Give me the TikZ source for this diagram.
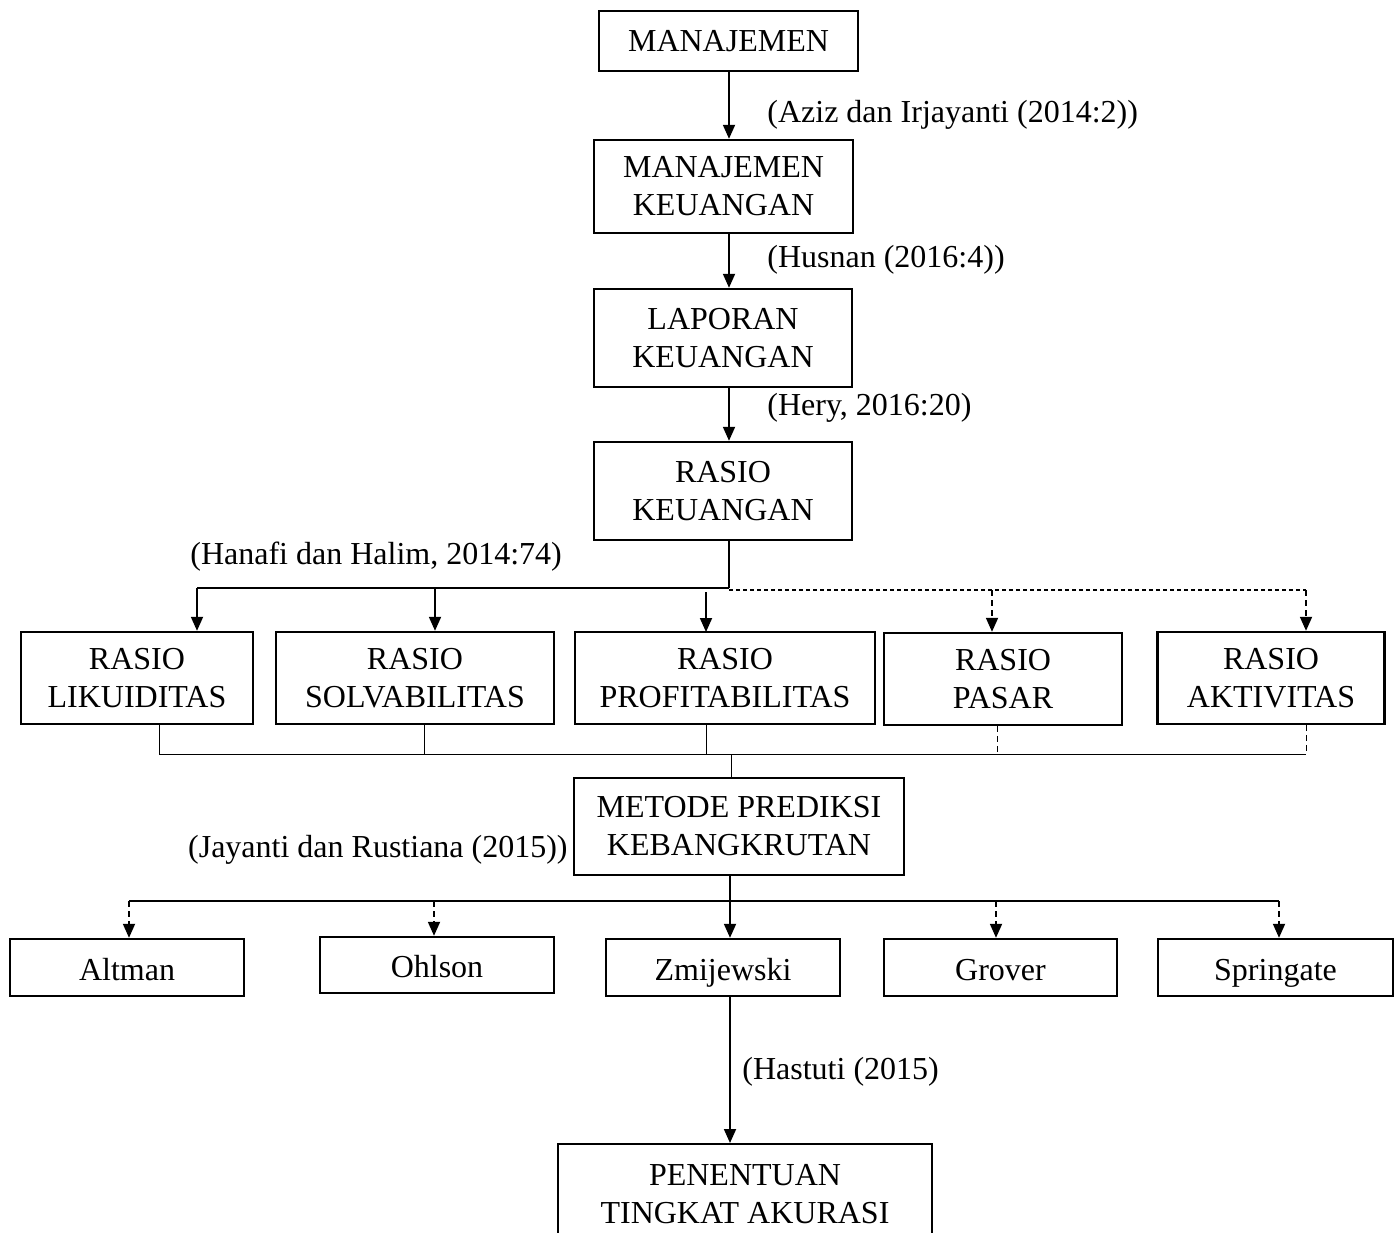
\documentclass[tikz,border=0pt]{standalone}
\usepackage{fontspec}
\setmainfont{Liberation Serif}
\usetikzlibrary{arrows.meta}

\tikzset{
  kotak/.style={draw, line width=1.2pt, align=center, inner sep=0pt,
    font=\fontsize{16}{19}\selectfont},
  model/.style={kotak, text height=14pt, text depth=1.5pt},
  ket/.style={inner sep=0pt, font=\fontsize{16}{19}\selectfont},
  panah/.style={-{Triangle[length=7pt,width=6pt]}, line width=0.9pt},
  putus/.style={dash pattern=on 3pt off 2pt},
  titik/.style={dash pattern=on 2pt off 1.5pt, line width=0.6pt}
}

\begin{document}
\begin{tikzpicture}[x=0.5pt, y=-0.5pt]

  \useasboundingbox (0,0) rectangle (1400,1232);

  % -------------------------
  % Jalur utama
  % -------------------------
  \coordinate (spine) at (729,0);

  \node[kotak, minimum width=129.5pt, minimum height=30pt] (mgmt) at (728.5,41) {MANAJEMEN};
  \node[kotak, minimum width=129.5pt, minimum height=46.5pt] (mk) at (723.5,186.5) {MANAJEMEN\\KEUANGAN};
  \node[kotak, minimum width=129pt, minimum height=49pt] (lk) at (723,338) {LAPORAN\\KEUANGAN};
  \node[kotak, minimum width=129pt, minimum height=49pt] (rk) at (723,491) {RASIO\\KEUANGAN};

  \draw[panah] (spine |- mgmt.south) -- (spine |- mk.north);
  \draw[panah] (spine |- mk.south) -- (spine |- lk.north);
  \draw[panah] (spine |- lk.south) -- (spine |- rk.north);

  \node[ket, anchor=west] (aziz) at (767,115) {(Aziz dan Irjayanti (2014:2))};
  \node[ket, anchor=west] (husnan) at (767,260) {(Husnan (2016:4))};
  \node[ket, anchor=west] (hery) at (767,408) {(Hery, 2016:20)};
  \node[ket, anchor=west] (hanafi) at (190,557) {(Hanafi dan Halim, 2014:74)};

  % -------------------------
  % Jenis rasio
  % -------------------------
  \node[kotak, minimum width=116pt, minimum height=46pt] (lik) at (137,678) {RASIO\\LIKUIDITAS};
  \node[kotak, minimum width=139pt, minimum height=46pt] (sol) at (415,678) {RASIO\\SOLVABILITAS};
  \node[kotak, minimum width=150pt, minimum height=46pt] (pro) at (725,678) {RASIO\\PROFITABILITAS};
  \node[kotak, minimum width=119pt, minimum height=46pt] (pas) at (1003,679) {RASIO\\PASAR};
  \node[kotak, minimum width=113.5pt, minimum height=46pt] (akt) at (1271,678) {RASIO\\AKTIVITAS};

  \coordinate (a1) at (197,588);
  \coordinate (a2) at (435,588);
  \coordinate (a3) at (729,588);
  \coordinate (a4) at (992,590);
  \coordinate (a5) at (1306,590);

  \draw[line width=0.8pt] (spine |- rk.south) -- (a3);
  \draw[line width=0.8pt] (a3) -- (a1);
  \draw[titik] (a3 |- a4) -- (a5);

  \draw[panah] (a1) -- (a1 |- lik.north);
  \draw[panah] (a2) -- (a2 |- sol.north);
  \draw[panah] (706,592) -- (706,632);
  \draw[panah, putus] (a4) -- (a4 |- pas.north);
  \draw[panah, putus] (a5) -- (a5 |- akt.north);

  % -------------------------
  % Penggabungan
  % -------------------------
  \coordinate (b1) at (159,754);
  \coordinate (b2) at (424,754);
  \coordinate (b3) at (706,754);
  \coordinate (b4) at (997,754);
  \coordinate (b5) at (1306,754);

  \draw[line width=0.5pt] (b1 |- lik.south) -- (b1);
  \draw[line width=0.5pt] (b2 |- sol.south) -- (b2);
  \draw[line width=0.5pt] (b3 |- pro.south) -- (b3);
  \draw[line width=0.5pt, putus] (b4 |- pas.south) -- (b4);
  \draw[line width=0.5pt, putus] (b5 |- akt.south) -- (b5);
  \draw[line width=0.5pt] (b1) -- (b5);

  \node[kotak, minimum width=165pt, minimum height=48.5pt] (metode) at (739,826.5) {METODE PREDIKSI\\KEBANGKRUTAN};
  \draw[line width=0.5pt] (731,754) -- (731,778);

  \node[ket, anchor=east] (jayanti) at (568,850) {(Jayanti dan Rustiana (2015))};

  % -------------------------
  % Model prediksi
  % -------------------------
  \node[model, minimum width=117pt, minimum height=28.5pt] (alt) at (127,967.5) {Altman};
  \node[model, minimum width=117pt, minimum height=28pt] (ohl) at (437,965) {Ohlson};
  \node[model, minimum width=117pt, minimum height=28.5pt] (zmi) at (723,967.5) {Zmijewski};
  \node[model, minimum width=116.5pt, minimum height=28.5pt] (gro) at (1000.5,967.5) {Grover};
  \node[model, minimum width=117.5pt, minimum height=28.5pt] (spr) at (1275.5,967.5) {Springate};

  \coordinate (c1) at (129,901);
  \coordinate (c2) at (434,901);
  \coordinate (c3) at (730,901);
  \coordinate (c4) at (996,901);
  \coordinate (c5) at (1279,901);

  \draw[line width=0.6pt] (c3 |- metode.south) -- (c3);
  \draw[line width=0.9pt] (c1) -- (c5);

  \draw[panah, putus] (c1) -- (c1 |- alt.north);
  \draw[panah, putus] (c2) -- (c2 |- ohl.north);
  \draw[panah] (c3) -- (c3 |- zmi.north);
  \draw[panah, putus] (c4) -- (c4 |- gro.north);
  \draw[panah, putus] (c5) -- (c5 |- spr.north);

  % -------------------------
  % Hasil akhir
  % -------------------------
  \node[kotak, minimum width=187pt, minimum height=50pt, anchor=north] (pen) at (745,1143) {PENENTUAN\\TINGKAT AKURASI};

  \draw[panah] (c3 |- zmi.south) -- (c3 |- pen.north);
  \node[ket, anchor=west] (hastuti) at (742,1072) {(Hastuti (2015)};

\end{tikzpicture}
\end{document}
